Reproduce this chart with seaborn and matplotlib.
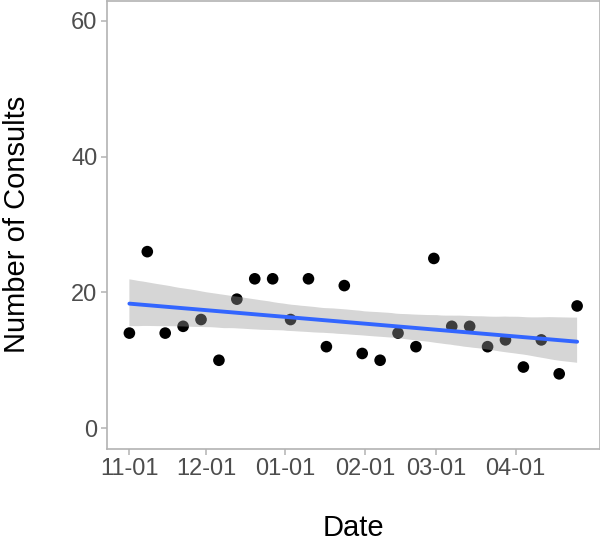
import matplotlib
matplotlib.use("Agg")
import matplotlib.pyplot as plt
import matplotlib.dates as mdates
import seaborn as sns
import pandas as pd
import numpy as np

dates = pd.date_range("2018-11-01", periods=26, freq="7D")
consults = [14, 26, 14, 15, 16, 10, 19, 22, 22, 16, 22, 12, 21,
            11, 10, 14, 12, 25, 15, 15, 12, 13, 9, 13, 8, 18]
x_ticks = ["2018-11-01", "2018-12-01", "2019-01-01", "2019-02-01", "2019-03-01", "2019-04-01"]
y_ticks = [0, 20, 40, 60]

df = pd.DataFrame({"date": dates, "consults": consults})
df["datenum"] = mdates.date2num(df["date"])

sns.set_theme(style="white")
plt.rcParams["font.family"] = ["Liberation Sans", "DejaVu Sans"]

fig = plt.figure(figsize=(6, 5.46), dpi=100)
ax = fig.add_axes([107 / 600, 1 - 448.5 / 546, (599.5 - 107) / 600, (448.5 - 0.5) / 546])

sns.scatterplot(data=df, x="datenum", y="consults", ax=ax, color="black",
                s=70, edgecolor="none", zorder=2)
sns.regplot(data=df, x="datenum", y="consults", ax=ax, scatter=False, ci=95,
            truncate=True, color="#3366FF", line_kws={"lw": 2.8, "zorder": 4})
for coll in ax.collections[1:]:
    coll.set_alpha(None)
    coll.set_facecolor((0.6, 0.6, 0.6, 0.4))
    coll.set_edgecolor("none")
    coll.set_zorder(3)

xt = mdates.date2num(pd.to_datetime(x_ticks))
ax.set_xticks(xt)
ax.set_xticklabels([pd.Timestamp(t).strftime("%m-%d") for t in x_ticks])
span = df["datenum"].max() - df["datenum"].min()
ax.set_xlim(df["datenum"].min() - 0.05 * span, df["datenum"].max() + 0.05 * span)
ax.set_ylim(-3, 63)
ax.set_yticks(y_ticks)

for s in ax.spines.values():
    s.set_color("#b3b3b3")
    s.set_linewidth(1.2)
ax.tick_params(axis="both", which="both", length=4, width=1.1, color="#b3b3b3",
               labelcolor="#4d4d4d", labelsize=17, bottom=True, left=True, pad=3)
ax.set_xlabel("Date", fontsize=21, color="black", labelpad=24)
ax.set_ylabel("Number of Consults", fontsize=21, color="black", labelpad=29)
ax.grid(False)

fig.savefig("out.png", dpi=100)
